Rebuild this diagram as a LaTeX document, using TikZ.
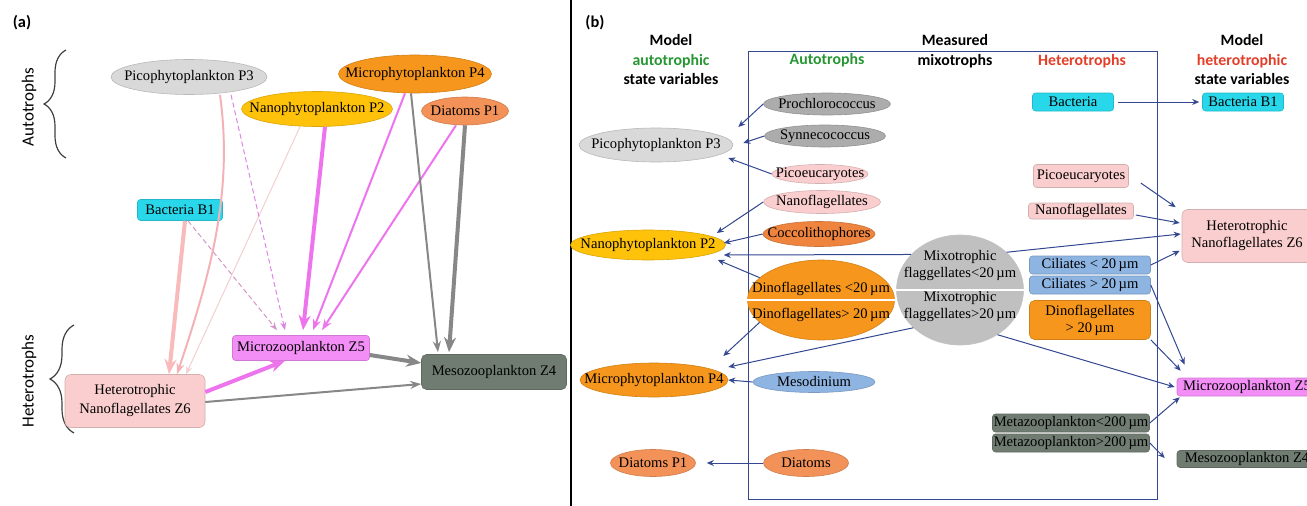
\documentclass[tikz,border=0pt]{standalone}
\usepackage{fontspec}
\setmainfont{Liberation Serif}
\newfontfamily\headfont{Carlito}
\usetikzlibrary{arrows.meta,shapes.geometric,decorations.pathreplacing}
\definecolor{lgray}{RGB}{217,217,217}
\definecolor{mgray}{RGB}{172,172,172}
\definecolor{xgray}{RGB}{192,192,192}
\definecolor{pyellow}{RGB}{255,194,10}
\definecolor{porange}{RGB}{246,150,28}
\definecolor{psalmon}{RGB}{243,146,88}
\definecolor{pcocco}{RGB}{238,132,62}
\definecolor{pcyan}{RGB}{40,216,234}
\definecolor{lpink}{RGB}{250,206,206}
\definecolor{pmag}{RGB}{243,142,246}
\definecolor{dgray}{RGB}{112,124,114}
\definecolor{pblue}{RGB}{142,180,226}
\definecolor{agreen}{RGB}{38,150,50}
\definecolor{ared}{RGB}{226,62,40}
\definecolor{bblue}{RGB}{52,72,145}
\definecolor{fpink}{RGB}{248,186,186}
\definecolor{mpink}{RGB}{244,178,182}
\definecolor{tpink}{RGB}{240,208,208}
\definecolor{dpink}{RGB}{212,150,200}
\definecolor{dmag}{RGB}{222,132,228}
\definecolor{lmag}{RGB}{238,116,238}
\definecolor{lgr}{RGB}{135,135,135}
\begin{document}
\begin{tikzpicture}[x=1pt, y=-1pt, font=\fontsize{14.6}{17}\selectfont,
	ell style/.style={ellipse, draw=#1!85!black, fill=#1, line width=0.6pt, inner sep=0pt},
	box style/.style={rectangle, rounded corners=3pt, draw=#1!85!black, fill=#1, line width=0.6pt, inner sep=0pt, align=center},
	head style/.style={font=\headfont\bfseries\fontsize{15.8}{19.5}\selectfont, align=center},
	side style/.style={font=\headfont\fontsize{17}{20}\selectfont, rotate=90},
	fat line/.style={line width=4pt, -{Stealth[length=15pt, width=12pt]}},
	mid line/.style={line width=2pt, -{Stealth[length=11pt, width=8pt]}},
	thin line/.style={line width=1pt, -{Stealth[length=8pt, width=6pt]}},
	blue line/.style={draw=bblue, line width=1pt, -{Stealth[length=7pt, width=6pt]}}]
	\useasboundingbox (0,0) rectangle (1307,506);
	\clip (0,0) rectangle (1307,506);
	\draw[line width=1.2pt] (571,0) -- (571,506);
	\node[head style, font=\headfont\bfseries\fontsize{16.4}{19}\selectfont] (LA) at (22,23) {(a)};
	\node[side style] (AutoT) at (29,107) {Autotrophs};
	\node[side style] (HeteroT) at (29,381) {Heterotrophs};
	\draw[decorate, decoration={brace, amplitude=22pt}, line width=1.2pt, black!75] (66,158) -- (66,50);
	\draw[decorate, decoration={brace, amplitude=24pt}, line width=1.2pt, black!75] (74,433) -- (74,325);
	\node[ell style=lgray, minimum width=156pt, minimum height=35pt, label=center:Picophytoplankton P3] (aP3) at (189,77) {};
	\node[ell style=porange, minimum width=153pt, minimum height=38pt, label=center:Microphytoplankton P4] (aP4) at (415,74) {};
	\node[ell style=pyellow, minimum width=151pt, minimum height=35pt, label=center:Nanophytoplankton P2] (aP2) at (317,109) {};
	\node[ell style=psalmon, minimum width=87pt, minimum height=28pt, label=center:Diatoms P1] (aP1) at (465,111) {};
	\node[box style=pcyan, minimum width=85pt, minimum height=21pt] (aB1) at (180,210) {Bacteria B1};
	\node[box style=pmag, minimum width=137pt, minimum height=25pt] (aZ5) at (301,348) {Microzooplankton Z5};
	\node[box style=dgray, minimum width=145pt, minimum height=35pt, rounded corners=5pt] (aZ4) at (494,372) {Mesozooplankton Z4};
	\node[box style=lpink, minimum width=140pt, minimum height=53pt, rounded corners=6pt, font=\fontsize{14.6}{19}\selectfont] (aZ6) at (135,401) {Heterotrophic\\Nanoflagellates Z6};
	\draw[fat line, fpink] ([xshift=5pt]aB1.south) -- ([xshift=34pt]aZ6.north);
	\draw[mid line, mpink] ([xshift=31pt]aP3.south) .. controls (233,190) and (212,270) .. ([xshift=42pt]aZ6.north);
	\draw[thin line, tpink] ([xshift=-17pt]aP2.south) -- ([xshift=51pt]aZ6.north);
	\draw[thin line, dpink, dash pattern=on 5pt off 3pt] ([xshift=8pt]aB1.south) -- ([xshift=-24pt, yshift=5pt]aZ5.north);
	\draw[thin line, dmag, dash pattern=on 5pt off 3pt] ([xshift=42pt]aP3.south) -- ([xshift=-16pt, yshift=5pt]aZ5.north);
	\draw[fat line, lmag] ([xshift=8pt]aP2.south) -- ([xshift=2pt, yshift=5pt]aZ5.north);
	\draw[mid line, lmag] ([xshift=-10pt]aP4.south) -- ([xshift=12pt, yshift=5pt]aZ5.north);
	\draw[mid line, lmag] ([xshift=-9pt]aP1.south) -- ([xshift=21pt, yshift=5pt]aZ5.north);
	\draw[mid line, lgr] ([xshift=-4pt]aP4.south) -- ([xshift=-56pt, yshift=2pt]aZ4.north);
	\draw[fat line, lgr] (aP1.south) -- ([xshift=-45pt, yshift=2pt]aZ4.north);
	\draw[fat line, lgr] ([yshift=-7pt]aZ5.east) -- ([yshift=9pt]aZ4.west);
	\draw[fat line, lmag] ([yshift=9pt]aZ6.east) -- ([xshift=-16pt]aZ5.south);
	\draw[mid line, lgr] ([yshift=-1pt]aZ6.east) -- ([yshift=-12pt]aZ4.west);
	\draw[bblue, line width=1pt] (748,51) rectangle (1157,499);
	\node[head style, font=\headfont\bfseries\fontsize{16.4}{19}\selectfont] (LB) at (595,23) {(b)};
	\node[head style] (ModA) at (671,60) {Model\\\textcolor{agreen}{autotrophic}\\state variables};
	\node[head style, agreen] (AutoB) at (827,60) {Autotrophs};
	\node[head style] (Meas) at (955,51) {Measured\\mixotrophs};
	\node[head style, ared] (HetB) at (1082,61) {Heterotrophs};
	\node[head style] (ModH) at (1242,60) {Model\\\textcolor{ared}{heterotrophic}\\state variables};
	\node[ell style=lgray, minimum width=154pt, minimum height=34pt, label=center:Picophytoplankton P3] (bP3) at (656,145) {};
	\node[ell style=pyellow, minimum width=155pt, minimum height=30pt, label=center:Nanophytoplankton P2] (bP2) at (648,245) {};
	\node[ell style=porange, minimum width=148pt, minimum height=34pt, label=center:Microphytoplankton P4] (bP4) at (654,380) {};
	\node[ell style=psalmon, minimum width=85pt, minimum height=27pt, label=center:Diatoms P1] (bP1) at (653,463) {};
	\node[ell style=mgray, minimum width=127pt, minimum height=22pt, label=center:Prochlorococcus] (Proch) at (827,104) {};
	\node[ell style=mgray, minimum width=121pt, minimum height=22pt, label=center:Synnecococcus] (Synne) at (825,136) {};
	\node[ell style=lpink, minimum width=96pt, minimum height=19pt, label=center:Picoeucaryotes] (PicoA) at (820,174) {};
	\node[ell style=lpink, minimum width=117pt, minimum height=23pt, label=center:Nanoflagellates] (NanoA) at (822,202) {};
	\node[ell style=pcocco, minimum width=112pt, minimum height=25pt, label=center:Coccolithophores] (Cocco) at (819,234) {};
	\node[ell style=porange, minimum width=147pt, minimum height=80pt, label={[yshift=11pt]center:Dinoflagellates <20\,µm}, label={[yshift=-15pt]center:Dinoflagellates> 20\,µm}] (Dino) at (821,300) {};
	\draw[white, line width=2pt] (Dino.west) -- (Dino.east);
	\node[ell style=xgray, draw=xgray, minimum width=127pt, minimum height=110pt, label={[align=center, yshift=24pt]center:{Mixotrophic\\flaggellates<20\,µm}}, label={[align=center, yshift=-17pt]center:{Mixotrophic\\flaggellates>20\,µm}}] (Mixo) at (960,290) {};
	\draw[white, line width=2pt] (Mixo.west) -- (Mixo.east);
	\node[ell style=pblue, minimum width=122pt, minimum height=21pt, label=center:Mesodinium] (Meso) at (814,382) {};
	\node[ell style=psalmon, minimum width=85pt, minimum height=27pt, label=center:Diatoms] (Diat) at (806,463) {};
	\node[box style=pcyan, minimum width=81pt, minimum height=18pt] (Bact) at (1073,102) {Bacteria};
	\node[box style=pcyan, minimum width=81pt, minimum height=18pt] (bB1) at (1243,102) {Bacteria B1};
	\node[box style=lpink, minimum width=95pt, minimum height=23pt] (PicoH) at (1081,176) {Picoeucaryotes};
	\node[box style=lpink, minimum width=105pt, minimum height=16pt] (NanoH) at (1081,211) {Nanoflagellates};
	\node[box style=lpink, minimum width=130pt, minimum height=53pt, rounded corners=6pt] (bZ6) at (1247,236) {Heterotrophic\\Nanoflagellates Z6};
	\node[box style=pblue, minimum width=121pt, minimum height=18pt] (CilS) at (1090,265) {Ciliates < 20\,µm};
	\node[box style=pblue, minimum width=121pt, minimum height=18pt] (CilL) at (1090,285) {Ciliates > 20\,µm};
	\node[box style=porange, minimum width=121pt, minimum height=39pt, rounded corners=5pt] (DinoL) at (1090,320) {Dinoflagellates\\> 20\,µm};
	\node[box style=pmag, minimum width=140pt, minimum height=18pt] (bZ5) at (1247,387) {Microzooplankton Z5};
	\node[box style=dgray, minimum width=157pt, minimum height=18pt] (MetaS) at (1071,423) {Metazooplankton<200\,µm};
	\node[box style=dgray, minimum width=157pt, minimum height=18pt] (MetaL) at (1071,443) {Metazooplankton>200\,µm};
	\node[box style=dgray, minimum width=140pt, minimum height=17pt] (bZ4) at (1247,459) {Mesozooplankton Z4};
	\draw[blue line] (Proch.west) -- ([xshift=5pt, yshift=18pt]bP3.east);
	\draw[blue line] (Synne.west) -- ([xshift=10pt, yshift=2pt]bP3.east);
	\draw[blue line] (PicoA.west) -- ([xshift=-5pt, yshift=-13pt]bP3.east);
	\draw[blue line] (NanoA.west) -- ([xshift=-9pt, yshift=12pt]bP2.east);
	\draw[blue line] (Cocco.west) -- ([xshift=-2pt, yshift=2pt]bP2.east);
	\draw[blue line] (Mixo.144) -- ([xshift=-2pt, yshift=-10pt]bP2.east);
	\draw[blue line] (Dino.160) -- ([xshift=-8pt, yshift=-15pt]bP2.east);
	\draw[blue line] (Dino.200) -- ([xshift=-5pt, yshift=24pt]bP4.east);
	\draw[blue line] (Mixo.219) -- ([yshift=13pt]bP4.east);
	\draw[blue line] (Meso.west) -- (bP4.east);
	\draw[blue line] (Diat.west) -- ([xshift=11pt]bP1.east);
	\draw[blue line] ([xshift=4pt]Bact.east) -- ([xshift=-3pt]bB1.west);
	\draw[blue line] ([xshift=12pt, yshift=-7pt]PicoH.east) -- ([xshift=-6pt, yshift=2pt]bZ6.north west);
	\draw[blue line] ([xshift=2pt, yshift=-4pt]NanoH.east) -- ([xshift=-2pt, yshift=13pt]bZ6.west);
	\draw[blue line] (Mixo.39) -- ([xshift=-1pt, yshift=2pt]bZ6.west);
	\draw[blue line] (CilS.east) -- ([xshift=-2pt, yshift=12pt]bZ6.south west);
	\draw[blue line] (CilL.east) -- ([xshift=8pt, yshift=13pt]bZ5.north west);
	\draw[blue line] (DinoL.south east) -- ([xshift=4pt, yshift=7pt]bZ5.north west);
	\draw[blue line] (Mixo.-50) -- ([xshift=-2pt]bZ5.west);
	\draw[blue line] (MetaS.east) -- ([xshift=3pt, yshift=-1pt]bZ5.south west);
	\draw[blue line] (MetaL.east) -- ([xshift=-12pt, yshift=1pt]bZ4.west);
\end{tikzpicture}
\end{document}
